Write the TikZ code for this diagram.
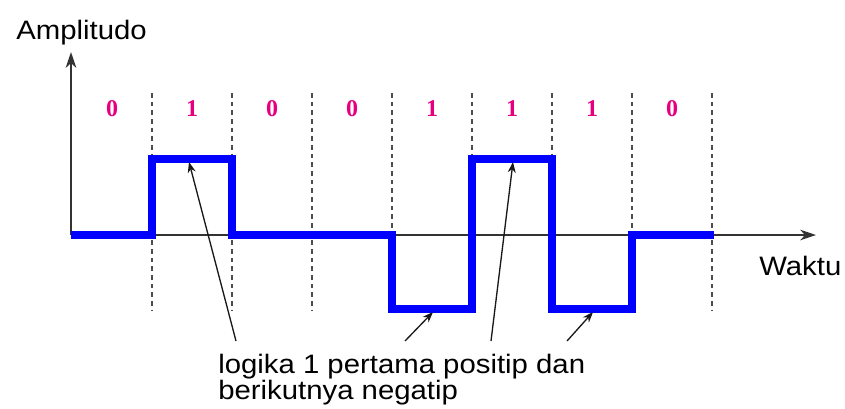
\documentclass[tikz,border=0pt]{standalone}
\usepackage{fontspec}
\setmainfont{Liberation Sans}[FakeStretch=1.1]
\newfontfamily\bitfont{Liberation Serif}
\usetikzlibrary{arrows.meta}
\definecolor{bitpink}{RGB}{230,0,126}

\begin{document}
\begin{tikzpicture}[
        x=0.75pt, y=-0.75pt,
        axis/.style={line width=1.3pt, black!80, -{Stealth[length=12pt, width=8pt]}},
        grid/.style={line width=1.2pt, black!70, dash pattern=on 3.5pt off 3pt},
        signal/.style={line width=6pt, blue, line join=miter},
        bitlabel/.style={font=\bitfont\bfseries\fontsize{18}{20}\selectfont, text=bitpink},
        axislabel/.style={font=\fontsize{20}{24}\selectfont, inner sep=0pt, anchor=base west},
        pointer/.style={-{Stealth[length=8pt, width=6pt]}, line width=1pt, black!90},
    ]
        \useasboundingbox (0,0) rectangle (845,408);

        % Bit slots
        \foreach \x in {152,232,...,712}
            \draw[grid] (\x,93) -- (\x,310);
        \foreach \b [count=\i] in {0,1,0,0,1,1,1,0}
            \node[bitlabel] (bit\i) at (32+80*\i,109) {\b};

        % Axes
        \coordinate (o) at (71,235);
        \coordinate (ymax) at (71,52);
        \coordinate (tmax) at (816,235);
        \draw[axis] (o) -- (ymax);
        \draw[axis] (o) -- (tmax);
        \node[axislabel] (amp) at (16,39) {Amplitudo};
        \node[axislabel] (waktu) at (759,275) {Waktu};

        % AMI waveform
        \draw[signal] (o) -| (152,159) -| (232,235) -| (392,309) -| (472,159) -| (552,309) -| (632,235) -- (714,235);

        % Note (anchor on last line)
        \node[font=\fontsize{20}{21}\selectfont, align=left, inner sep=0pt, anchor=base west] (note) at (218,399) {logika 1 pertama positip dan\\[-1.5pt]berikutnya negatip};

        % Pointers
        \coordinate (t1) at (236,341);
        \coordinate (t2) at (491,341);
        \coordinate (t3) at (405,341);
        \coordinate (t4) at (567,341);
        \coordinate (h1) at (189,162);
        \coordinate (h2) at (513,162);
        \coordinate (l1) at (433,312);
        \coordinate (l2) at (593,312);
        \draw[pointer] (t1) -- (h1);
        \draw[pointer] (t2) -- (h2);
        \draw[pointer] (t3) -- (l1);
        \draw[pointer] (t4) -- (l2);
    \end{tikzpicture}
\end{document}
